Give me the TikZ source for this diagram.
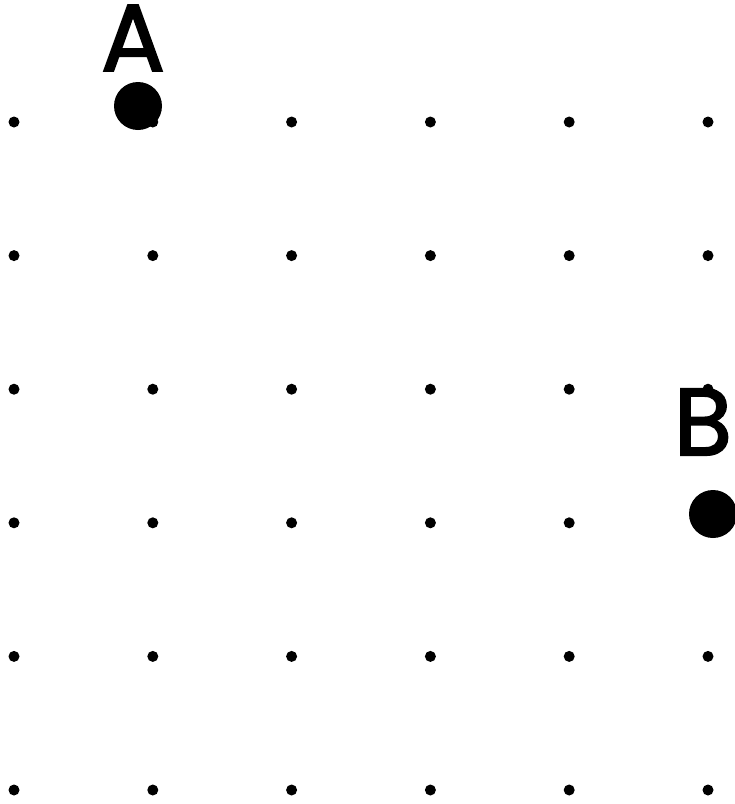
\documentclass[tikz,border=0pt]{standalone}
\usepackage{fontspec}
\setmainfont{Poppins}
\newfontfamily\labelfont{Poppins}[FakeBold=2]
\usetikzlibrary{positioning}
\tikzset{
  griddot/.style={circle, fill=black, inner sep=0pt, minimum size=11pt},
  bigdot/.style={circle, fill=black, inner sep=0pt, minimum size=48pt},
  ptlabel/.style={font=\labelfont\fontsize{95}{95}\selectfont, inner sep=0pt}
}
\begin{document}
\begin{tikzpicture}[x=1pt, y=-1pt]
\useasboundingbox (0,0) rectangle (735,804);
% dot grid, 6 x 6
\foreach \i in {0,...,5} {
  \foreach \j in {0,...,5} {
    \node[griddot] (d\i\j) at ({14+138.8*\i},{122+133.6*\j}) {};
  }
}
% the two marked points
\node[bigdot] (A) at (138,106) {};
\node[bigdot] (B) at (713,514) {};
\node[ptlabel] (labA) at (133,38) {A};
\node[ptlabel] (labB) at (703,422) {B};
\end{tikzpicture}
\end{document}
